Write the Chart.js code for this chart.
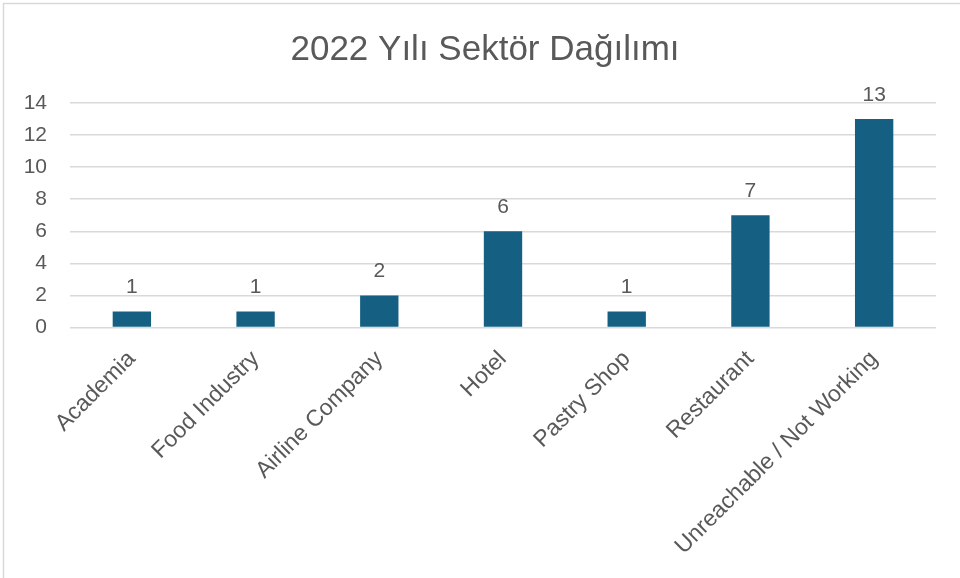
<!DOCTYPE html>
<html>
<head>
<meta charset="utf-8">
<script src="https://cdn.jsdelivr.net/npm/chart.js@4"></script>
<style>
  html, body { margin: 0; padding: 0; background: #fff; }
  #wrap { position: relative; width: 960px; height: 578px; }
</style>
</head>
<body>
<div id="wrap"><canvas id="sectorChart"></canvas></div>
<script>
// data
const sectors = ["Academia", "Food Industry", "Airline Company", "Hotel", "Pastry Shop", "Restaurant", "Unreachable / Not Working"]
const counts = [1, 1, 2, 6, 1, 7, 13]
const yTicks = [0, 2, 4, 6, 8, 10, 12, 14]

const textColor = "#595959"
const barColor = "#156082"
const gridColor = "#d9d9d9"
const fontFamily = "'Liberation Sans', Arial, sans-serif"

// value labels above the bars
const valueLabels = {
    id: "valueLabels",
    afterDatasetsDraw(chart) {
        const ctx = chart.ctx
        const meta = chart.getDatasetMeta(0)
        ctx.save()
        ctx.font = "21px " + fontFamily
        ctx.fillStyle = textColor
        ctx.textAlign = "center"
        ctx.textBaseline = "alphabetic"
        meta.data.forEach((bar, i) => {
            ctx.fillText(String(counts[i]), bar.x, bar.y - 18)
        })
        ctx.restore()
    }
}

// light frame on the left and top, like the office chart box
const frame = {
    id: "frame",
    beforeDraw(chart) {
        const ctx = chart.ctx
        ctx.save()
        ctx.strokeStyle = gridColor
        ctx.lineWidth = 1.5
        ctx.beginPath()
        ctx.moveTo(3.5, chart.height)
        ctx.lineTo(3.5, 3.5)
        ctx.lineTo(chart.width, 3.5)
        ctx.stroke()
        ctx.restore()
    }
}

const ctx = document.getElementById("sectorChart").getContext("2d")
const myChart = new Chart(ctx, {
    type: "bar",
    data: {
        labels: sectors,
        datasets: [{
            data: counts,
            backgroundColor: barColor,
            borderWidth: 0,
            barPercentage: 0.31,
            categoryPercentage: 1
        }]
    },
    options: {
        responsive: true,
        maintainAspectRatio: false,
        animation: false,
        layout: {
            padding: { top: 0, left: 20, right: 10, bottom: 0 }
        },
        plugins: {
            legend: { display: false },
            tooltip: { enabled: false },
            title: {
                display: true,
                text: "2022 Yılı Sektör Dağılımı",
                color: textColor,
                font: { family: fontFamily, size: 35, weight: "normal" },
                padding: { top: 29, bottom: 32 }
            }
        },
        scales: {
            x: {
                // first slanted label may run under the y labels; keep room on the right
                afterFit(scale) {
                    scale.paddingLeft = 0
                    scale.paddingRight = 24
                },
                grid: { display: false, drawTicks: false },
                border: { display: false },
                ticks: {
                    color: textColor,
                    font: { family: fontFamily, size: 23 },
                    minRotation: 45,
                    maxRotation: 45,
                    autoSkip: false,
                    padding: 18
                }
            },
            y: {
                min: 0,
                max: 14,
                afterBuildTicks(axis) {
                    axis.ticks = yTicks.map(v => ({ value: v }))
                },
                // fixed axis width so the labels sit where the original has them
                afterFit(scale) {
                    scale.width = 50
                },
                grid: { color: gridColor, lineWidth: 1.5, drawTicks: false },
                border: { display: false },
                ticks: {
                    color: textColor,
                    font: { family: fontFamily, size: 21 },
                    padding: 23
                }
            }
        }
    },
    plugins: [frame, valueLabels]
})
</script>
</body>
</html>
